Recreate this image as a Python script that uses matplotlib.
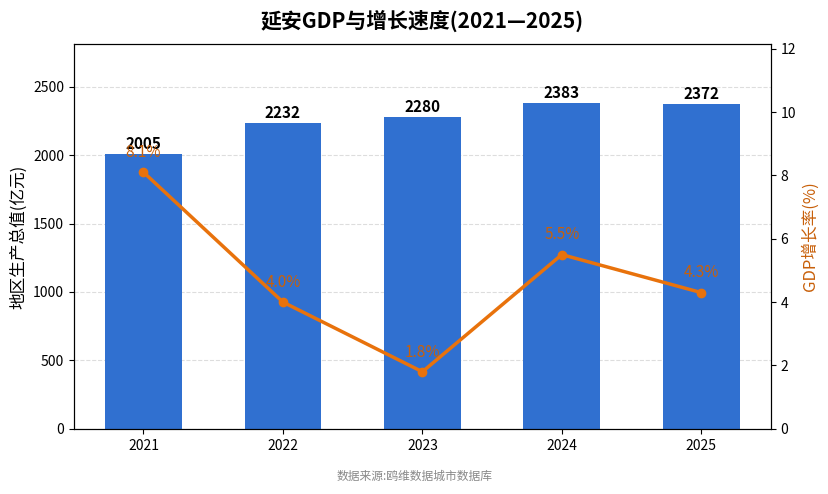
import matplotlib.pyplot as plt
import numpy as np

plt.rcParams['font.family'] = ['Noto Sans CJK SC', 'DejaVu Sans']
plt.rcParams['axes.unicode_minus'] = False

years = ['2021', '2022', '2023', '2024', '2025']
gdp = [2005, 2232, 2280, 2383, 2372]
growth = [8.1, 4.0, 1.8, 5.5, 4.3]


def main():
    fig, ax = plt.subplots(figsize=(8.29, 4.94), dpi=100)
    fig.subplots_adjust(left=0.089, right=0.930, top=0.911, bottom=0.132)
    x = np.arange(len(years))

    ax.bar(x, gdp, width=0.55, color='#3070d0', zorder=2)
    for xi, v in zip(x, gdp):
        ax.text(xi, v + 15, str(v), ha='center', va='bottom',
                fontsize=11, fontweight='bold', color='black', zorder=5)
    ax.set_ylim(0, max(gdp) * 1.18)
    ax.set_xlim(-0.5, len(years) - 0.5)
    ax.set_xticks(x)
    ax.set_xticklabels(years)
    ax.set_ylabel('地区生产总值(亿元)', fontsize=12)
    ax.grid(axis='y', ls='--', color='#dddddd', lw=0.8, zorder=0)
    ax.set_axisbelow(True)

    ax2 = ax.twinx()
    ax2.plot(x, growth, color='#e8720c', lw=2.5, marker='o', markersize=6, zorder=4)
    for xi, v in zip(x, growth):
        ax2.annotate(f'{v}%', (xi, v), xytext=(0, 8), textcoords='offset points',
                     ha='center', va='bottom', fontsize=11, color='#c8600a')
    ax2.set_ylim(0, max(growth) * 1.5)
    ax2.set_ylabel('GDP增长率(%)', fontsize=12, color='#c8600a')

    ax.set_title('延安GDP与增长速度(2021—2025)', fontsize=15, fontweight='bold', pad=12)
    fig.text(0.5, 0.036, '数据来源:鸥维数据城市数据库', ha='center', va='center',
             fontsize=8.5, color='#888888')

    plt.savefig('out.png')


if __name__ == '__main__':
    main()
